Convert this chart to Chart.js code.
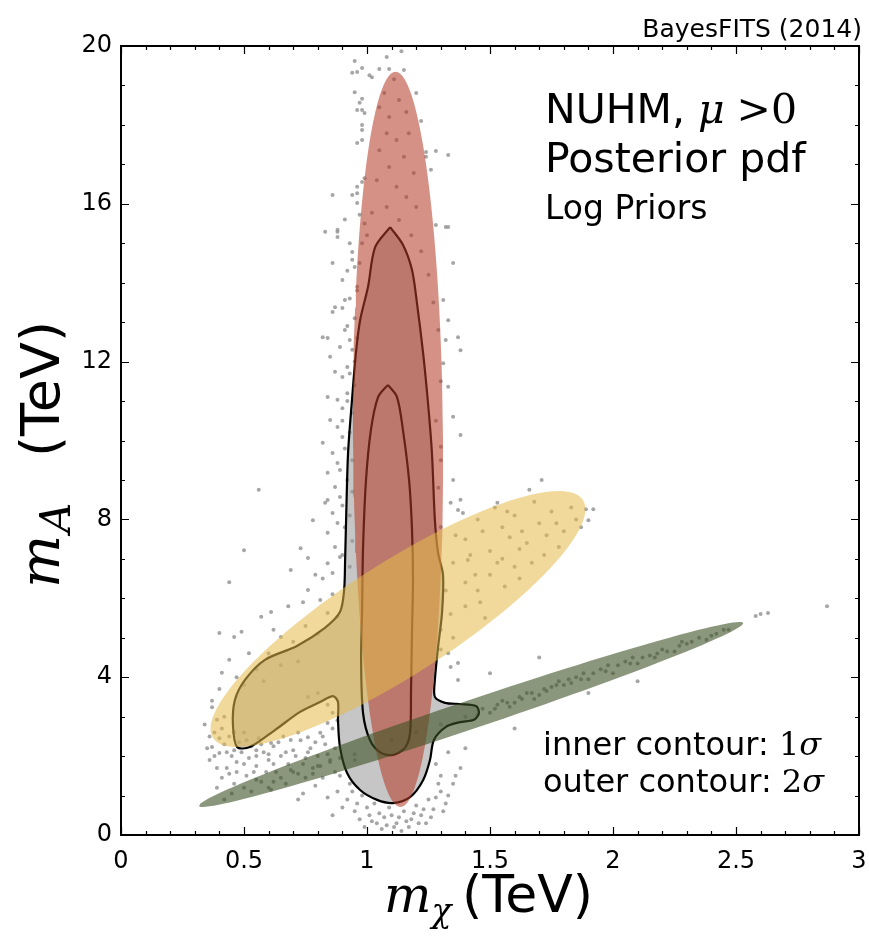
<!DOCTYPE html>
<html>
<head>
<meta charset="utf-8">
<script src="https://cdn.jsdelivr.net/npm/chart.js@4.4.0/dist/chart.umd.min.js"></script>
<style>
  html, body { margin: 0; padding: 0; background: #fff; overflow: hidden; }
</style>
</head>
<body>
<canvas id="chart" width="869" height="936"></canvas>
<script>
// axes (TeV)
const xRange = [0, 3];
const yRange = [0, 20];
const xStep = 0.5, xMinor = 0.1;
const yStep = 4, yMinor = 1;

// 2 sigma (outer) contour, m_chi and m_A in TeV
const outerX = [1.094, 1.146, 1.183, 1.203, 1.228, 1.248, 1.264, 1.276, 1.289, 1.309, 1.305, 1.289, 1.276, 1.276,
  1.317, 1.378, 1.443, 1.455, 1.435, 1.378, 1.321, 1.272, 1.256, 1.228, 1.175, 1.106, 1.041, 0.972, 0.919, 0.890,
  0.882, 0.882, 0.862, 0.809, 0.728, 0.626, 0.524, 0.472, 0.455, 0.463, 0.504, 0.585, 0.715, 0.829, 0.890, 0.907,
  0.911, 0.915, 0.923, 0.939, 0.955, 0.972, 1.004, 1.033, 1.094];
const outerY = [15.41, 14.96, 14.32, 13.49, 12.22, 10.95, 9.68, 7.98, 7.15, 6.59, 5.63, 4.77, 3.93, 3.50,
  3.35, 3.32, 3.27, 3.09, 2.92, 2.86, 2.74, 2.41, 1.90, 1.39, 0.96, 0.81, 0.89, 1.14, 1.57, 2.23,
  2.92, 3.37, 3.52, 3.37, 3.12, 2.66, 2.23, 2.23, 2.79, 3.42, 3.93, 4.44, 4.79, 5.25, 5.65, 6.21,
  6.97, 7.98, 9.68, 11.03, 12.22, 13.05, 13.89, 14.90, 15.41];

// 1 sigma (inner) contour
const innerX = [1.085, 1.122, 1.146, 1.171, 1.183, 1.187, 1.183, 1.179, 1.175, 1.154, 1.106, 1.057, 1.012, 0.984,
  0.976, 0.980, 0.984, 0.996, 1.016, 1.045, 1.085];
const innerY = [11.41, 11.10, 10.27, 9.00, 7.73, 6.46, 5.20, 3.68, 2.59, 2.21, 2.03, 2.08, 2.41, 3.09,
  4.44, 5.70, 7.30, 9.00, 10.27, 11.10, 11.41];

// ellipses: [centre x, centre y, half axis 1 (dx, dy), half axis 2 (dx, dy)]
const redEllipse = [1.126, 10.03, -0.01, 9.32, 0.183, 0];
const yellowEllipse = [1.126, 5.475, 0.752, 3.016, 0.123, -1.194];
const greenEllipse = [1.423, 3.055, 1.106, 2.319, 0.0185, -0.3435];

// posterior samples
const samples = [
  [1.08,19.72],[1.14,19.87],[0.95,19.62],[0.94,19.32],[0.96,19.34],[0.98,19.44],[1.01,19.26],[1.02,19.21],[1.05,19.42],
  [1.09,19.42],[1.15,19.39],[0.95,18.83],[0.98,18.66],[0.97,18.56],[0.98,18.38],[0.96,18.38],[0.99,18.30],[0.98,18.00],
  [0.98,17.87],[0.96,17.54],[0.98,17.62],[1.20,18.81],[1.22,18.10],[1.24,17.31],[1.28,17.34],[1.33,17.24],[1.24,17.19],
  [1.26,16.86],[0.99,16.65],[0.98,16.55],[0.96,16.43],[0.96,16.27],[0.94,16.22],[0.96,16.02],[0.97,15.72],[0.86,16.22],
  [0.88,15.34],[0.88,15.16],[1.28,15.46],[1.32,15.41],
  [1.11,19.16],[1.07,18.81],[1.13,18.63],[1.05,18.45],[1.09,18.20],[1.16,18.33],[1.08,17.79],[1.12,17.62],[1.17,17.79],
  [1.05,17.36],[1.15,17.19],[1.09,16.93],[1.19,16.78],[1.04,16.60],[1.12,16.43],[1.16,16.17],[1.08,15.92],[1.20,15.92],
  [1.02,15.77],[1.13,15.59],
  [0.83,15.29],[0.88,15.29],[0.86,14.50],[0.94,14.78],[0.94,14.58],[0.90,14.07],[0.91,13.56],[0.90,13.36],[0.87,13.38],
  [0.86,13.26],[0.82,12.62],[0.84,12.60],[0.85,12.12],[0.89,12.37],[0.91,12.80],[0.93,12.55],[0.87,11.74],[0.90,11.61],
  [0.92,11.86],[0.84,11.10],[0.88,11.03],[0.90,10.82],[0.92,11.20],[0.85,10.52],[0.88,10.34],[0.90,10.09],[0.82,9.94],
  [0.86,9.68],[0.88,9.43],[0.84,9.18],[0.87,8.82],[0.89,8.57],[0.83,8.42],[0.86,8.16],[0.88,7.91],[0.84,7.66],
  [0.87,7.30],[0.89,7.05],[0.84,6.89],[0.86,6.64],
  [0.93,6.8],[0.90,7.1],[0.94,7.45],[0.91,7.8],[0.93,8.1],[0.90,8.35],[0.94,8.7],[0.92,9.0],[0.89,9.25],[0.94,9.5],
  [0.91,9.8],[0.93,10.2],[0.90,10.5],[0.94,10.7],[0.92,11.0],[0.95,11.4],[0.93,11.7],[0.95,12.0],[0.94,12.3],[0.96,12.6],
  [0.92,12.9],[0.95,13.1],[0.93,13.6],[0.96,13.9],[0.92,14.3],[0.95,14.4],[0.98,15.0],[0.93,15.0],[0.91,15.6],[0.99,15.5],
  [1.33,15.41],[1.35,14.50],[1.31,13.56],[1.33,13.05],[1.32,12.55],[1.37,12.62],[1.38,12.29],[1.31,11.96],[1.33,11.36],
  [1.35,10.60],[1.38,10.14],[1.30,9.84],[1.35,9.00],[1.34,8.42],[1.37,8.24],[1.30,7.81],
  [0.56,8.75],[0.50,7.22],[0.44,6.41],[0.73,7.27],[0.69,6.72],[0.76,7.02],[0.78,7.98],[0.84,8.49],[0.40,5.12],
  [0.46,5.02],[0.49,5.15],[0.57,5.53],[0.61,5.65],[0.65,5.02],[0.52,4.61],[0.44,4.44],[0.41,4.11],[0.37,3.24],
  [0.39,2.92],[0.37,2.23],[0.40,2.08],[0.46,2.15],[0.55,2.15],[0.61,2.33],[0.69,2.41],[0.76,2.48],[0.81,2.59],
  [0.84,2.84],[0.76,6.21],[0.81,5.96],[0.84,5.63],[0.88,5.53],
  [0.55,4.2],[0.6,4.6],[0.65,4.3],[0.7,4.9],[0.75,5.3],[0.8,5.1],[0.72,4.4],[0.58,3.9],[0.5,3.8],[0.47,4.0],
  [0.62,5.2],[0.68,5.8],[0.82,6.5],[0.86,6.1],[0.79,6.6],[0.74,5.9],
  [1.37,4.36],[1.37,3.93],[1.34,4.26],[1.33,4.61],[1.39,8.16],[1.41,6.97],[1.71,9.00],[1.53,8.42],[1.66,8.75],
  [1.40,7.5],[1.45,8.0],[1.5,7.2],[1.55,7.8],[1.6,8.1],[1.65,7.4],[1.7,7.9],[1.75,8.2],[1.8,7.7],[1.5,6.6],
  [1.55,7.0],[1.6,6.8],[1.45,6.2],[1.4,5.8],[1.48,5.5],[1.35,6.9],[1.42,7.1],[1.58,7.55],[1.68,8.45],[1.85,8.0],
  [1.72,7.1],[1.62,7.25],[1.52,8.3],[1.38,8.5],[1.3,5.2],[1.35,5.0],[1.3,4.7],[1.89,8.26],[1.92,8.26],[1.90,7.98],
  [1.32,6.2],[1.36,7.6],[1.44,6.6],[1.47,7.7],[1.53,6.9],[1.57,8.2],[1.63,7.7],[1.67,6.9],[1.73,7.6],[1.77,7.9],
  [1.83,8.3],[1.87,7.8],[1.4,6.4],[1.46,5.9],[1.34,5.6],[1.62,6.5],[1.78,7.3],[1.56,6.3],
  [0.38,2.6],[0.40,2.45],[0.42,2.3],[0.44,2.5],[0.45,2.0],[0.47,1.85],[0.48,2.35],[0.50,2.6],[0.52,1.95],[0.53,2.25],
  [0.55,1.75],[0.56,2.45],[0.58,2.1],[0.60,1.9],[0.62,2.25],[0.63,1.6],[0.65,2.0],[0.66,2.5],[0.68,1.8],[0.70,2.15],
  [0.72,1.55],[0.73,2.4],[0.75,1.95],[0.77,2.2],[0.78,1.7],[0.80,2.0],[0.82,1.45],[0.83,2.3],[0.85,1.85],[0.87,1.6],
  [0.43,1.7],[0.41,1.45],[0.36,1.9],[0.39,1.2],[0.46,1.3],[0.51,1.5],[0.57,1.35],[0.61,1.15],[0.67,1.3],[0.74,1.05],
  [0.79,1.25],[0.84,0.95],[0.88,1.1],[0.9,0.7],[0.86,0.5],[0.53,1.1],[0.42,0.9],[0.35,2.2],[0.34,2.8],[0.37,3.4],
  [0.36,2.5],[0.38,2.0],[0.39,1.7],[0.41,2.7],[0.43,2.1],[0.44,1.55],[0.46,2.6],[0.47,1.6],[0.49,2.1],[0.50,1.8],
  [0.51,2.4],[0.54,1.6],[0.55,2.0],[0.57,2.3],[0.59,1.6],[0.60,2.05],[0.62,1.8],[0.64,2.35],[0.65,1.45],[0.67,2.1],
  [0.69,1.65],[0.71,2.0],[0.72,2.6],[0.74,1.8],[0.76,2.1],[0.78,1.55],[0.79,2.35],[0.81,1.75],[0.82,2.5],[0.84,2.05],
  [0.86,2.7],[0.87,2.2],[0.88,2.9],[0.89,1.95],[0.86,3.1],[0.84,3.3],[0.80,3.6],[0.76,3.5],[0.40,3.7],[0.42,3.0],
  [0.92,0.9],[0.95,0.6],[0.97,0.4],[1.0,0.7],[1.02,0.35],[1.05,0.55],[1.08,0.25],[1.1,0.5],[1.12,0.3],[1.15,0.6],
  [1.18,0.4],[1.2,0.75],[1.22,0.5],[1.25,0.9],[1.27,0.65],[1.3,1.1],[1.32,0.8],[1.3,1.5],[1.35,1.3],[1.28,1.8],
  [1.33,2.1],[0.93,1.3],[0.99,0.2],[1.06,0.15],[1.14,0.1],[1.17,0.2],[0.89,1.5],[0.95,1.9],[1.24,0.3],[1.38,1.7],[1.4,2.2],
  [0.94,1.1],[0.96,0.8],[0.98,1.0],[1.01,0.5],[1.03,0.8],[1.04,0.3],[1.07,0.45],[1.09,0.7],[1.11,0.2],[1.13,0.45],
  [1.16,0.35],[1.19,0.55],[1.21,0.3],[1.23,0.65],[1.26,0.45],[1.28,0.95],[1.31,0.6],[1.33,1.0],[1.29,1.3],[1.36,1.5],
  [0.45,1.05],[0.55,1.4],[0.6,1.2],[0.7,1.6],[0.75,1.45],[0.85,1.9],[1.5,3.1],[1.55,3.4],[1.6,3.35],[1.65,3.6],
  [1.7,3.55],[1.75,3.75],[1.8,3.8],[1.85,4.0],[1.9,3.95],[1.95,4.2],[2.0,4.1],[2.05,4.4],[2.1,4.35],[2.15,4.55],
  [2.2,4.7],[2.25,4.65],[2.3,4.85],[2.35,5.0],[2.4,5.05],[2.45,5.2],[1.62,3.5],[1.72,3.7],[1.78,3.9],[1.88,4.1],
  [1.98,4.3],[2.08,4.5],[1.58,3.25],[1.68,3.45],[2.18,4.6],[2.28,4.9],[1.53,3.3],[1.83,3.85],
  [0.5,1.2],[0.62,1.35],[0.8,1.75],[0.95,2.05],[1.1,2.4],[1.2,2.6],[1.3,2.8],[1.4,3.0],[1.45,3.05],[1.47,3.2],
  [1.52,3.2],[1.57,3.35],[1.63,3.45],[1.67,3.6],[1.73,3.65],[1.77,3.8],[1.82,3.95],[1.87,3.95],[1.92,4.1],[1.97,4.15],
  [2.02,4.3],[2.07,4.35],[2.12,4.5],[2.17,4.5],[2.22,4.65],[2.27,4.8],[2.32,4.9],[2.38,4.95],[2.42,5.1],[2.47,5.2],
  [2.58,5.55],[2.60,5.60],[2.63,5.63],[2.87,5.80],[0.72,0.9],[1.6,2.7],[1.9,3.6],[2.1,3.9],[1.5,4.1],[1.7,4.5],
  [1.27,13.5],[1.29,12.8],[1.3,11.5],[1.28,10.5],[1.3,9.5],[1.29,8.8],[1.25,14.2],[1.22,14.8],[1.18,15.2],[1.0,15.2],
  [0.97,14.5],[0.96,13.8]
];

function toPoints(xs, ys) {
  return xs.map((x, i) => ({x: x, y: ys[i]}));
}

// outline of an ellipse from its centre and two half axes
function ellipsePoints(e) {
  const pts = [];
  for (let i = 0; i <= 120; i++) {
    const t = i / 120 * 2 * Math.PI;
    pts.push({
      x: e[0] + Math.cos(t) * e[2] + Math.sin(t) * e[4],
      y: e[1] + Math.cos(t) * e[3] + Math.sin(t) * e[5]
    });
  }
  return pts;
}

function shape(data, fillColor, order) {
  return {
    type: 'line', data: data, order: order, showLine: true,
    fill: 'shape', backgroundColor: fillColor,
    borderWidth: 0, borderColor: 'rgba(0,0,0,0)', pointRadius: 0, tension: 0
  };
}

function contour(data, order) {
  return {
    type: 'line', data: data, order: order, showLine: true, fill: false,
    borderColor: '#000', borderWidth: 2.2, pointRadius: 0, tension: 0.3
  };
}

// frame with inward ticks on all four sides
const framePlugin = {
  id: 'frame',
  afterDatasetsDraw(chart) {
    const {ctx, chartArea: a, scales: {x, y}} = chart;
    ctx.save();
    ctx.strokeStyle = '#000';
    ctx.lineWidth = 1.2;
    ctx.beginPath();
    for (let i = 0; i <= Math.round((xRange[1] - xRange[0]) / xMinor); i++) {
      const v = xRange[0] + i * xMinor;
      const px = Math.round(x.getPixelForValue(v)) + 0.5;
      const major = i % Math.round(xStep / xMinor) === 0;
      const len = major ? 8 : 4;
      ctx.moveTo(px, a.bottom); ctx.lineTo(px, a.bottom - len);
      ctx.moveTo(px, a.top); ctx.lineTo(px, a.top + len);
    }
    for (let i = 0; i <= Math.round((yRange[1] - yRange[0]) / yMinor); i++) {
      const v = yRange[0] + i * yMinor;
      const py = Math.round(y.getPixelForValue(v)) + 0.5;
      const major = i % Math.round(yStep / yMinor) === 0;
      const len = major ? 8 : 4;
      ctx.moveTo(a.left, py); ctx.lineTo(a.left + len, py);
      ctx.moveTo(a.right, py); ctx.lineTo(a.right - len, py);
    }
    ctx.stroke();
    ctx.lineWidth = 2;
    ctx.strokeRect(a.left, a.top, a.right - a.left, a.bottom - a.top);
    ctx.restore();
  }
};

// draw a run of text pieces with their own fonts
function drawRuns(ctx, runs, x, y) {
  let cx = x;
  runs.forEach(r => {
    ctx.font = r.font;
    cx += r.gap || 0;
    ctx.fillText(r.t, cx, y + (r.dy || 0));
    cx += ctx.measureText(r.t).width;
  });
}

const SANS = '"DejaVu Sans", sans-serif';
const SERIF = '"DejaVu Serif", serif';

const textPlugin = {
  id: 'texts',
  afterDraw(chart) {
    const ctx = chart.ctx;
    ctx.save();
    ctx.fillStyle = '#000';
    ctx.textBaseline = 'alphabetic';
    ctx.textAlign = 'left';

    // header
    ctx.font = '25px ' + SANS;
    ctx.textAlign = 'right';
    ctx.fillText('BayesFITS (2014)', 862, 37);
    ctx.textAlign = 'left';

    drawRuns(ctx, [
      {t: 'NUHM, ', font: '41px ' + SANS},
      {t: 'μ', font: 'italic 41px ' + SERIF},
      {t: '>0', font: '41px ' + SERIF, gap: 12}
    ], 545, 123);
    ctx.font = '41px ' + SANS;
    ctx.fillText('Posterior pdf', 545, 172);
    ctx.font = '33px ' + SANS;
    ctx.fillText('Log Priors', 545, 219);

    drawRuns(ctx, [
      {t: 'inner contour: ', font: '32px ' + SANS},
      {t: '1', font: '32px ' + SERIF},
      {t: 'σ', font: 'italic 32px ' + SERIF}
    ], 543, 755);
    drawRuns(ctx, [
      {t: 'outer contour: ', font: '32px ' + SANS},
      {t: '2', font: '32px ' + SERIF},
      {t: 'σ', font: 'italic 32px ' + SERIF}
    ], 543, 792);

    // x axis title
    drawRuns(ctx, [
      {t: 'm', font: 'italic 50px ' + SERIF},
      {t: 'χ', font: 'italic 33px ' + SERIF, dy: 10}
    ], 384, 912);
    ctx.font = '52px ' + SANS;
    ctx.textAlign = 'right';
    ctx.fillText('(TeV)', 593, 912);
    ctx.textAlign = 'left';

    // y axis title, rotated
    ctx.translate(59, 0);
    ctx.rotate(-Math.PI / 2);
    drawRuns(ctx, [
      {t: 'm', font: 'italic 56px ' + SERIF},
      {t: 'A', font: 'italic 42px ' + SERIF, dy: 11, gap: 2}
    ], -588, 0);
    ctx.font = '54px ' + SANS;
    ctx.textAlign = 'right';
    ctx.fillText('(TeV)', -321, 0);
    ctx.restore();
  }
};

new Chart(document.getElementById('chart'), {
  type: 'scatter',
  data: {
    datasets: [
      shape(ellipsePoints(greenEllipse), 'rgba(62,82,36,0.6)', 0),
      shape(ellipsePoints(yellowEllipse), 'rgba(228,186,72,0.55)', 1),
      shape(ellipsePoints(redEllipse), 'rgba(180,58,40,0.56)', 2),
      contour(toPoints(innerX, innerY), 3),
      contour(toPoints(outerX, outerY), 4),
      {
        type: 'scatter', order: 5,
        data: samples.map(p => ({x: p[0], y: p[1]})),
        pointRadius: 2, pointBorderWidth: 0,
        pointBackgroundColor: 'rgba(150,150,150,0.85)'
      },
      shape(toPoints(outerX, outerY), 'rgb(198,198,198)', 6)
    ]
  },
  options: {
    responsive: false,
    animation: false,
    events: [],
    layout: { padding: { left: 0, right: 10, top: 46, bottom: 0 } },
    plugins: { legend: { display: false }, tooltip: { enabled: false } },
    scales: {
      x: {
        type: 'linear', min: xRange[0], max: xRange[1],
        grid: { display: false, drawTicks: false }, border: { display: false },
        ticks: { stepSize: xStep, autoSkip: false, maxRotation: 0, padding: 12, color: '#000',
                 font: { family: 'DejaVu Sans', size: 24 },
                 callback: v => String(Math.round(v * 10) / 10) },
        afterFit(s) { s.height = 101; s.paddingLeft = 0; s.paddingRight = 0; }
      },
      y: {
        type: 'linear', min: yRange[0], max: yRange[1],
        grid: { display: false, drawTicks: false }, border: { display: false },
        ticks: { stepSize: yStep, autoSkip: false, padding: 9, color: '#000',
                 font: { family: 'DejaVu Sans', size: 24 } },
        afterFit(s) { s.width = 121; s.paddingTop = 0; s.paddingBottom = 0; }
      }
    }
  },
  plugins: [framePlugin, textPlugin]
});
</script>
</body>
</html>
